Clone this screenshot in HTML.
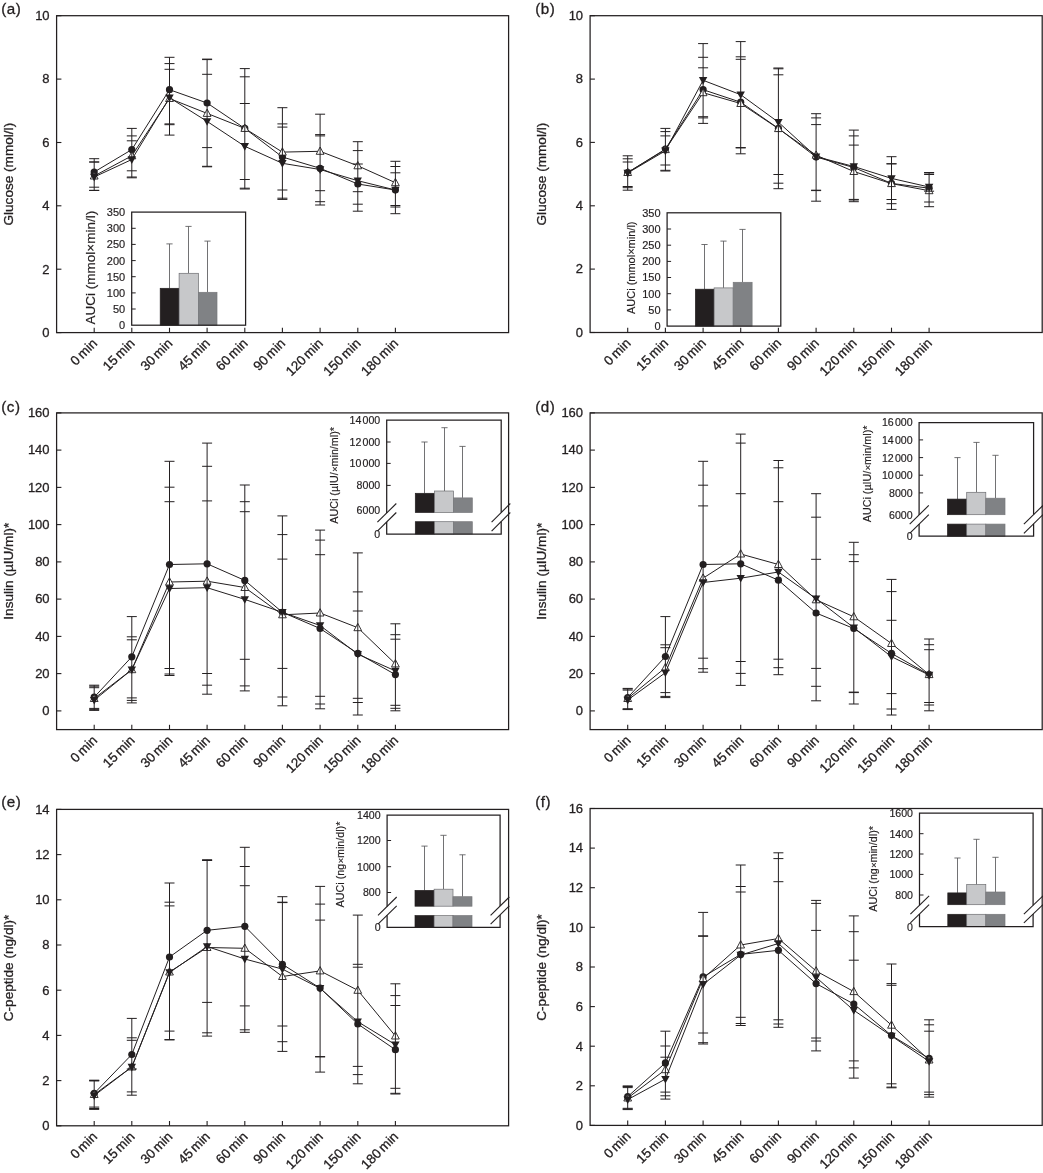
<!DOCTYPE html>
<html lang="en"><head><meta charset="utf-8"><title>Figure</title>
<style>
html,body{margin:0;padding:0;background:#fff;}
body{width:1043px;height:1173px;overflow:hidden;}
svg{display:block;}
text{font-family:"Liberation Sans",Arial,Helvetica,sans-serif;fill:#231f20;stroke:#231f20;stroke-width:0.3px;}
.ax{fill:none;stroke:#231f20;stroke-width:1.25;}
.iax{fill:none;stroke:#231f20;stroke-width:1.25;}
.ibg{fill:#fff;stroke:none;}
.tk{stroke:#231f20;stroke-width:1.1;}
.dl{fill:none;stroke:#231f20;stroke-width:1.0;stroke-linejoin:round;}
.eb{stroke:#231f20;stroke-width:1.0;}
.ie{stroke:#58595b;stroke-width:0.85;}
.sl{stroke:#231f20;stroke-width:1.1;}
.mc{fill:#231f20;}
.md{fill:#231f20;}
.mu{fill:#fff;stroke:#231f20;stroke-width:0.9;}
.yt{font-size:13.0px;text-anchor:end;}
.xt{font-size:13.4px;text-anchor:end;word-spacing:-1.6px;}
.yl{font-size:13.6px;text-anchor:middle;}
.pl{font-size:15.2px;letter-spacing:0.5px;}
.it{font-size:10.6px;text-anchor:end;word-spacing:-1.7px;stroke-width:0.18px;}
.itk{stroke:#231f20;stroke-width:1;}
.il{font-size:10.8px;text-anchor:middle;stroke-width:0.18px;}
.tm{font-size:0.84em;}
</style></head>
<body>
<svg width="1043" height="1173" viewBox="0 0 1043 1173">
<rect width="1043" height="1173" fill="#fff"/>
<g id="panel-a">
<polyline class="dl" points="94.2,172 131.8,149.6 169.5,89.7 207.1,103 244.8,128.4 282.4,157 320.1,168.3 357.8,184 395.4,190"/>
<circle class="mc" cx="94.2" cy="172" r="3.6"/>
<circle class="mc" cx="131.8" cy="149.6" r="3.6"/>
<circle class="mc" cx="169.5" cy="89.7" r="3.6"/>
<circle class="mc" cx="207.1" cy="103" r="3.6"/>
<circle class="mc" cx="244.8" cy="128.4" r="3.6"/>
<circle class="mc" cx="282.4" cy="157" r="3.6"/>
<circle class="mc" cx="320.1" cy="168.3" r="3.6"/>
<circle class="mc" cx="357.8" cy="184" r="3.6"/>
<circle class="mc" cx="395.4" cy="190" r="3.6"/>
<polyline class="dl" points="94.2,176 131.8,155.8 169.5,98.5 207.1,113.4 244.8,128.4 282.4,152.1 320.1,151.3 357.8,165.8 395.4,182.7"/>
<polygon class="mu" points="90.3,179 98.1,179 94.2,171.7"/>
<polygon class="mu" points="127.9,158.8 135.8,158.8 131.8,151.5"/>
<polygon class="mu" points="165.6,101.5 173.4,101.5 169.5,94.2"/>
<polygon class="mu" points="203.2,116.4 211,116.4 207.1,109.1"/>
<polygon class="mu" points="240.9,131.4 248.7,131.4 244.8,124.1"/>
<polygon class="mu" points="278.6,155.1 286.3,155.1 282.4,147.8"/>
<polygon class="mu" points="316.2,154.3 324,154.3 320.1,147"/>
<polygon class="mu" points="353.9,168.8 361.6,168.8 357.8,161.5"/>
<polygon class="mu" points="391.5,185.7 399.3,185.7 395.4,178.4"/>
<polyline class="dl" points="94.2,177 131.8,159.5 169.5,97.7 207.1,121.4 244.8,146.3 282.4,163.3 320.1,169.5 357.8,180.7 395.4,190"/>
<polygon class="md" points="90,173.8 98.4,173.8 94.2,181.4"/>
<polygon class="md" points="127.6,156.3 136,156.3 131.8,163.9"/>
<polygon class="md" points="165.3,94.5 173.7,94.5 169.5,102.1"/>
<polygon class="md" points="202.9,118.2 211.3,118.2 207.1,125.8"/>
<polygon class="md" points="240.6,143.1 249,143.1 244.8,150.7"/>
<polygon class="md" points="278.2,160.1 286.6,160.1 282.4,167.7"/>
<polygon class="md" points="315.9,166.3 324.3,166.3 320.1,173.9"/>
<polygon class="md" points="353.6,177.5 361.9,177.5 357.8,185.1"/>
<polygon class="md" points="391.2,186.8 399.6,186.8 395.4,194.4"/>
<line class="eb" x1="94.2" y1="158.7" x2="94.2" y2="190.4"/>
<line class="eb" x1="89.2" y1="158.7" x2="99.2" y2="158.7"/>
<line class="eb" x1="89.2" y1="162" x2="99.2" y2="162"/>
<line class="eb" x1="89.2" y1="162" x2="99.2" y2="162"/>
<line class="eb" x1="89.2" y1="187.2" x2="99.2" y2="187.2"/>
<line class="eb" x1="89.2" y1="190.4" x2="99.2" y2="190.4"/>
<line class="eb" x1="89.2" y1="190.4" x2="99.2" y2="190.4"/>
<line class="eb" x1="131.8" y1="128.4" x2="131.8" y2="177.8"/>
<line class="eb" x1="126.8" y1="128.4" x2="136.8" y2="128.4"/>
<line class="eb" x1="126.8" y1="135.9" x2="136.8" y2="135.9"/>
<line class="eb" x1="126.8" y1="140.8" x2="136.8" y2="140.8"/>
<line class="eb" x1="126.8" y1="170.8" x2="136.8" y2="170.8"/>
<line class="eb" x1="126.8" y1="177" x2="136.8" y2="177"/>
<line class="eb" x1="126.8" y1="177.8" x2="136.8" y2="177.8"/>
<line class="eb" x1="169.5" y1="57.3" x2="169.5" y2="135.1"/>
<line class="eb" x1="164.5" y1="57.3" x2="174.5" y2="57.3"/>
<line class="eb" x1="164.5" y1="63.6" x2="174.5" y2="63.6"/>
<line class="eb" x1="164.5" y1="69.3" x2="174.5" y2="69.3"/>
<line class="eb" x1="164.5" y1="123.9" x2="174.5" y2="123.9"/>
<line class="eb" x1="164.5" y1="124.7" x2="174.5" y2="124.7"/>
<line class="eb" x1="164.5" y1="135.1" x2="174.5" y2="135.1"/>
<line class="eb" x1="207.1" y1="59.1" x2="207.1" y2="166.8"/>
<line class="eb" x1="202.1" y1="59.1" x2="212.1" y2="59.1"/>
<line class="eb" x1="202.1" y1="59.6" x2="212.1" y2="59.6"/>
<line class="eb" x1="202.1" y1="74.3" x2="212.1" y2="74.3"/>
<line class="eb" x1="202.1" y1="147.6" x2="212.1" y2="147.6"/>
<line class="eb" x1="202.1" y1="166.3" x2="212.1" y2="166.3"/>
<line class="eb" x1="202.1" y1="166.8" x2="212.1" y2="166.8"/>
<line class="eb" x1="244.8" y1="68.6" x2="244.8" y2="189"/>
<line class="eb" x1="239.8" y1="68.6" x2="249.8" y2="68.6"/>
<line class="eb" x1="239.8" y1="76.8" x2="249.8" y2="76.8"/>
<line class="eb" x1="239.8" y1="103.5" x2="249.8" y2="103.5"/>
<line class="eb" x1="239.8" y1="179.5" x2="249.8" y2="179.5"/>
<line class="eb" x1="239.8" y1="188.2" x2="249.8" y2="188.2"/>
<line class="eb" x1="239.8" y1="189" x2="249.8" y2="189"/>
<line class="eb" x1="282.4" y1="107.7" x2="282.4" y2="199.4"/>
<line class="eb" x1="277.4" y1="107.7" x2="287.4" y2="107.7"/>
<line class="eb" x1="277.4" y1="123.9" x2="287.4" y2="123.9"/>
<line class="eb" x1="277.4" y1="127.1" x2="287.4" y2="127.1"/>
<line class="eb" x1="277.4" y1="190" x2="287.4" y2="190"/>
<line class="eb" x1="277.4" y1="198.2" x2="287.4" y2="198.2"/>
<line class="eb" x1="277.4" y1="199.4" x2="287.4" y2="199.4"/>
<line class="eb" x1="320.1" y1="114.2" x2="320.1" y2="205"/>
<line class="eb" x1="315.1" y1="114.2" x2="325.1" y2="114.2"/>
<line class="eb" x1="315.1" y1="134.6" x2="325.1" y2="134.6"/>
<line class="eb" x1="315.1" y1="135.9" x2="325.1" y2="135.9"/>
<line class="eb" x1="315.1" y1="190.7" x2="325.1" y2="190.7"/>
<line class="eb" x1="315.1" y1="201.7" x2="325.1" y2="201.7"/>
<line class="eb" x1="315.1" y1="205" x2="325.1" y2="205"/>
<line class="eb" x1="357.8" y1="141.7" x2="357.8" y2="211.2"/>
<line class="eb" x1="352.8" y1="141.7" x2="362.8" y2="141.7"/>
<line class="eb" x1="352.8" y1="150.6" x2="362.8" y2="150.6"/>
<line class="eb" x1="352.8" y1="164" x2="362.8" y2="164"/>
<line class="eb" x1="352.8" y1="191.7" x2="362.8" y2="191.7"/>
<line class="eb" x1="352.8" y1="204.2" x2="362.8" y2="204.2"/>
<line class="eb" x1="352.8" y1="211.2" x2="362.8" y2="211.2"/>
<line class="eb" x1="395.4" y1="161.3" x2="395.4" y2="213.7"/>
<line class="eb" x1="390.4" y1="161.3" x2="400.4" y2="161.3"/>
<line class="eb" x1="390.4" y1="166.5" x2="400.4" y2="166.5"/>
<line class="eb" x1="390.4" y1="172.8" x2="400.4" y2="172.8"/>
<line class="eb" x1="390.4" y1="205.5" x2="400.4" y2="205.5"/>
<line class="eb" x1="390.4" y1="207" x2="400.4" y2="207"/>
<line class="eb" x1="390.4" y1="213.7" x2="400.4" y2="213.7"/>
<rect class="ax" x="56.6" y="15.7" width="452" height="316.9"/>
<line class="tk" x1="56.6" y1="332.6" x2="61.4" y2="332.6"/>
<text class="yt" x="49.6" y="336.9">0</text>
<line class="tk" x1="56.6" y1="269.2" x2="61.4" y2="269.2"/>
<text class="yt" x="49.6" y="273.5">2</text>
<line class="tk" x1="56.6" y1="205.8" x2="61.4" y2="205.8"/>
<text class="yt" x="49.6" y="210.1">4</text>
<line class="tk" x1="56.6" y1="142.5" x2="61.4" y2="142.5"/>
<text class="yt" x="49.6" y="146.8">6</text>
<line class="tk" x1="56.6" y1="79.1" x2="61.4" y2="79.1"/>
<text class="yt" x="49.6" y="83.4">8</text>
<line class="tk" x1="56.6" y1="15.7" x2="61.4" y2="15.7"/>
<text class="yt" x="49.6" y="20">10</text>
<line class="tk" x1="94.2" y1="332.6" x2="94.2" y2="327.8"/>
<text class="xt" transform="translate(97.9,344.2) rotate(-45)">0 min</text>
<line class="tk" x1="131.8" y1="332.6" x2="131.8" y2="327.8"/>
<text class="xt" transform="translate(135.5,344.2) rotate(-45)">15 min</text>
<line class="tk" x1="169.5" y1="332.6" x2="169.5" y2="327.8"/>
<text class="xt" transform="translate(173.2,344.2) rotate(-45)">30 min</text>
<line class="tk" x1="207.1" y1="332.6" x2="207.1" y2="327.8"/>
<text class="xt" transform="translate(210.8,344.2) rotate(-45)">45 min</text>
<line class="tk" x1="244.8" y1="332.6" x2="244.8" y2="327.8"/>
<text class="xt" transform="translate(248.5,344.2) rotate(-45)">60 min</text>
<line class="tk" x1="282.4" y1="332.6" x2="282.4" y2="327.8"/>
<text class="xt" transform="translate(286.1,344.2) rotate(-45)">90 min</text>
<line class="tk" x1="320.1" y1="332.6" x2="320.1" y2="327.8"/>
<text class="xt" transform="translate(323.8,344.2) rotate(-45)">120 min</text>
<line class="tk" x1="357.8" y1="332.6" x2="357.8" y2="327.8"/>
<text class="xt" transform="translate(361.4,344.2) rotate(-45)">150 min</text>
<line class="tk" x1="395.4" y1="332.6" x2="395.4" y2="327.8"/>
<text class="xt" transform="translate(399.1,344.2) rotate(-45)">180 min</text>
<text class="yl" transform="translate(12.5,174.2) rotate(-90)">Glucose (mmol/l)</text>
<text class="pl" x="1.3" y="14.3">(a)</text>
<rect class="ibg" x="131.7" y="212.1" width="113.9" height="113.1"/>
<line class="ie" x1="169.5" y1="288.3" x2="169.5" y2="243.9"/>
<line class="ie" x1="166.4" y1="243.9" x2="172.6" y2="243.9"/>
<rect x="160.2" y="288.3" width="18.9" height="36.9" fill="#231f20" stroke="#231f20" stroke-width="0.7"/>
<line class="ie" x1="188.5" y1="273.3" x2="188.5" y2="226.4"/>
<line class="ie" x1="185.4" y1="226.4" x2="191.6" y2="226.4"/>
<rect x="179.1" y="273.3" width="19.4" height="51.9" fill="#c7c8ca" stroke="#6d6e71" stroke-width="0.7"/>
<line class="ie" x1="207.5" y1="292.3" x2="207.5" y2="241.1"/>
<line class="ie" x1="204.4" y1="241.1" x2="210.6" y2="241.1"/>
<rect x="198.5" y="292.3" width="18.5" height="32.9" fill="#808285" stroke="#77787b" stroke-width="0.7"/>
<rect class="iax" x="131.7" y="212.1" width="113.9" height="113.1"/>
<line class="itk" x1="131.7" y1="309" x2="135.7" y2="309"/>
<line class="itk" x1="131.7" y1="292.9" x2="135.7" y2="292.9"/>
<line class="itk" x1="131.7" y1="276.7" x2="135.7" y2="276.7"/>
<line class="itk" x1="131.7" y1="260.6" x2="135.7" y2="260.6"/>
<line class="itk" x1="131.7" y1="244.4" x2="135.7" y2="244.4"/>
<line class="itk" x1="131.7" y1="228.3" x2="135.7" y2="228.3"/>
<text class="it" style="font-size:11.0px" x="125.2" y="329.1">0</text>
<text class="it" style="font-size:11.0px" x="125.2" y="312.9">50</text>
<text class="it" style="font-size:11.0px" x="125.2" y="296.8">100</text>
<text class="it" style="font-size:11.0px" x="125.2" y="280.6">150</text>
<text class="it" style="font-size:11.0px" x="125.2" y="264.5">200</text>
<text class="it" style="font-size:11.0px" x="125.2" y="248.3">250</text>
<text class="it" style="font-size:11.0px" x="125.2" y="232.2">300</text>
<text class="it" style="font-size:11.0px" x="125.2" y="216">350</text>
<text class="il" style="font-size:13.5px" transform="translate(94.8,267.6) rotate(-90)">AUCi (mmol×min/l)</text>
</g>
<g id="panel-b">
<polyline class="dl" points="627.7,172.5 665.4,149.1 703.1,89.7 740.7,102.2 778.4,128.4 816.1,157 853.8,167.5 891.5,183.4 929.1,188.2"/>
<circle class="mc" cx="627.7" cy="172.5" r="3.6"/>
<circle class="mc" cx="665.4" cy="149.1" r="3.6"/>
<circle class="mc" cx="703.1" cy="89.7" r="3.6"/>
<circle class="mc" cx="740.7" cy="102.2" r="3.6"/>
<circle class="mc" cx="778.4" cy="128.4" r="3.6"/>
<circle class="mc" cx="816.1" cy="157" r="3.6"/>
<circle class="mc" cx="853.8" cy="167.5" r="3.6"/>
<circle class="mc" cx="891.5" cy="183.4" r="3.6"/>
<circle class="mc" cx="929.1" cy="188.2" r="3.6"/>
<polyline class="dl" points="627.7,172.5 665.4,149.6 703.1,92.7 740.7,103.5 778.4,128.6 816.1,155.2 853.8,171.5 891.5,183.6 929.1,190.7"/>
<polygon class="mu" points="623.8,175.5 631.6,175.5 627.7,168.2"/>
<polygon class="mu" points="661.5,152.6 669.3,152.6 665.4,145.3"/>
<polygon class="mu" points="699.2,95.7 707,95.7 703.1,88.4"/>
<polygon class="mu" points="736.8,106.5 744.6,106.5 740.7,99.2"/>
<polygon class="mu" points="774.5,131.6 782.3,131.6 778.4,124.3"/>
<polygon class="mu" points="812.2,158.2 820,158.2 816.1,150.9"/>
<polygon class="mu" points="849.9,174.5 857.7,174.5 853.8,167.2"/>
<polygon class="mu" points="887.6,186.6 895.4,186.6 891.5,179.3"/>
<polygon class="mu" points="925.2,193.7 933,193.7 929.1,186.4"/>
<polyline class="dl" points="627.7,173 665.4,150.8 703.1,80.3 740.7,94.7 778.4,122.2 816.1,156.6 853.8,166.5 891.5,178.4 929.1,187"/>
<polygon class="md" points="623.5,169.8 631.9,169.8 627.7,177.4"/>
<polygon class="md" points="661.2,147.6 669.6,147.6 665.4,155.2"/>
<polygon class="md" points="698.9,77.1 707.3,77.1 703.1,84.7"/>
<polygon class="md" points="736.5,91.5 744.9,91.5 740.7,99.1"/>
<polygon class="md" points="774.2,119 782.6,119 778.4,126.6"/>
<polygon class="md" points="811.9,153.4 820.3,153.4 816.1,161"/>
<polygon class="md" points="849.6,163.3 858,163.3 853.8,170.9"/>
<polygon class="md" points="887.3,175.2 895.7,175.2 891.5,182.8"/>
<polygon class="md" points="924.9,183.8 933.3,183.8 929.1,191.4"/>
<line class="eb" x1="627.7" y1="155.8" x2="627.7" y2="190.2"/>
<line class="eb" x1="622.7" y1="155.8" x2="632.7" y2="155.8"/>
<line class="eb" x1="622.7" y1="158.8" x2="632.7" y2="158.8"/>
<line class="eb" x1="622.7" y1="162" x2="632.7" y2="162"/>
<line class="eb" x1="622.7" y1="186.5" x2="632.7" y2="186.5"/>
<line class="eb" x1="622.7" y1="187.7" x2="632.7" y2="187.7"/>
<line class="eb" x1="622.7" y1="190.2" x2="632.7" y2="190.2"/>
<line class="eb" x1="665.4" y1="128.4" x2="665.4" y2="171"/>
<line class="eb" x1="660.4" y1="128.4" x2="670.4" y2="128.4"/>
<line class="eb" x1="660.4" y1="131.6" x2="670.4" y2="131.6"/>
<line class="eb" x1="660.4" y1="135.9" x2="670.4" y2="135.9"/>
<line class="eb" x1="660.4" y1="165" x2="670.4" y2="165"/>
<line class="eb" x1="660.4" y1="170.3" x2="670.4" y2="170.3"/>
<line class="eb" x1="660.4" y1="171" x2="670.4" y2="171"/>
<line class="eb" x1="703.1" y1="43.6" x2="703.1" y2="123.4"/>
<line class="eb" x1="698.1" y1="43.6" x2="708.1" y2="43.6"/>
<line class="eb" x1="698.1" y1="57.3" x2="708.1" y2="57.3"/>
<line class="eb" x1="698.1" y1="67.8" x2="708.1" y2="67.8"/>
<line class="eb" x1="698.1" y1="116.7" x2="708.1" y2="116.7"/>
<line class="eb" x1="698.1" y1="117.9" x2="708.1" y2="117.9"/>
<line class="eb" x1="698.1" y1="123.4" x2="708.1" y2="123.4"/>
<line class="eb" x1="740.7" y1="41.6" x2="740.7" y2="153.8"/>
<line class="eb" x1="735.7" y1="41.6" x2="745.7" y2="41.6"/>
<line class="eb" x1="735.7" y1="56.8" x2="745.7" y2="56.8"/>
<line class="eb" x1="735.7" y1="59.3" x2="745.7" y2="59.3"/>
<line class="eb" x1="735.7" y1="147.6" x2="745.7" y2="147.6"/>
<line class="eb" x1="735.7" y1="153.8" x2="745.7" y2="153.8"/>
<line class="eb" x1="735.7" y1="147.9" x2="745.7" y2="147.9"/>
<line class="eb" x1="778.4" y1="68" x2="778.4" y2="188.7"/>
<line class="eb" x1="773.4" y1="68" x2="783.4" y2="68"/>
<line class="eb" x1="773.4" y1="68.8" x2="783.4" y2="68.8"/>
<line class="eb" x1="773.4" y1="74.8" x2="783.4" y2="74.8"/>
<line class="eb" x1="773.4" y1="174.5" x2="783.4" y2="174.5"/>
<line class="eb" x1="773.4" y1="183.2" x2="783.4" y2="183.2"/>
<line class="eb" x1="773.4" y1="188.7" x2="783.4" y2="188.7"/>
<line class="eb" x1="816.1" y1="113.7" x2="816.1" y2="201.2"/>
<line class="eb" x1="811.1" y1="113.7" x2="821.1" y2="113.7"/>
<line class="eb" x1="811.1" y1="117.9" x2="821.1" y2="117.9"/>
<line class="eb" x1="811.1" y1="124.6" x2="821.1" y2="124.6"/>
<line class="eb" x1="811.1" y1="190.2" x2="821.1" y2="190.2"/>
<line class="eb" x1="811.1" y1="201.2" x2="821.1" y2="201.2"/>
<line class="eb" x1="811.1" y1="190.6" x2="821.1" y2="190.6"/>
<line class="eb" x1="853.8" y1="130.1" x2="853.8" y2="201.7"/>
<line class="eb" x1="848.8" y1="130.1" x2="858.8" y2="130.1"/>
<line class="eb" x1="848.8" y1="135.9" x2="858.8" y2="135.9"/>
<line class="eb" x1="848.8" y1="145.1" x2="858.8" y2="145.1"/>
<line class="eb" x1="848.8" y1="199.4" x2="858.8" y2="199.4"/>
<line class="eb" x1="848.8" y1="200" x2="858.8" y2="200"/>
<line class="eb" x1="848.8" y1="201.7" x2="858.8" y2="201.7"/>
<line class="eb" x1="891.5" y1="156.7" x2="891.5" y2="209.4"/>
<line class="eb" x1="886.5" y1="156.7" x2="896.5" y2="156.7"/>
<line class="eb" x1="886.5" y1="163.8" x2="896.5" y2="163.8"/>
<line class="eb" x1="886.5" y1="163.8" x2="896.5" y2="163.8"/>
<line class="eb" x1="886.5" y1="199.5" x2="896.5" y2="199.5"/>
<line class="eb" x1="886.5" y1="203.7" x2="896.5" y2="203.7"/>
<line class="eb" x1="886.5" y1="209.4" x2="896.5" y2="209.4"/>
<line class="eb" x1="929.1" y1="172.5" x2="929.1" y2="206.7"/>
<line class="eb" x1="924.1" y1="172.5" x2="934.1" y2="172.5"/>
<line class="eb" x1="924.1" y1="174.5" x2="934.1" y2="174.5"/>
<line class="eb" x1="924.1" y1="173" x2="934.1" y2="173"/>
<line class="eb" x1="924.1" y1="191.2" x2="934.1" y2="191.2"/>
<line class="eb" x1="924.1" y1="202" x2="934.1" y2="202"/>
<line class="eb" x1="924.1" y1="206.7" x2="934.1" y2="206.7"/>
<rect class="ax" x="590.1" y="15.7" width="452.1" height="316.8"/>
<line class="tk" x1="590.1" y1="332.5" x2="594.9" y2="332.5"/>
<text class="yt" x="583.1" y="336.8">0</text>
<line class="tk" x1="590.1" y1="269.1" x2="594.9" y2="269.1"/>
<text class="yt" x="583.1" y="273.4">2</text>
<line class="tk" x1="590.1" y1="205.8" x2="594.9" y2="205.8"/>
<text class="yt" x="583.1" y="210.1">4</text>
<line class="tk" x1="590.1" y1="142.4" x2="594.9" y2="142.4"/>
<text class="yt" x="583.1" y="146.7">6</text>
<line class="tk" x1="590.1" y1="79.1" x2="594.9" y2="79.1"/>
<text class="yt" x="583.1" y="83.4">8</text>
<line class="tk" x1="590.1" y1="15.7" x2="594.9" y2="15.7"/>
<text class="yt" x="583.1" y="20">10</text>
<line class="tk" x1="627.7" y1="332.5" x2="627.7" y2="327.7"/>
<text class="xt" transform="translate(631.4,344.1) rotate(-45)">0 min</text>
<line class="tk" x1="665.4" y1="332.5" x2="665.4" y2="327.7"/>
<text class="xt" transform="translate(669.1,344.1) rotate(-45)">15 min</text>
<line class="tk" x1="703.1" y1="332.5" x2="703.1" y2="327.7"/>
<text class="xt" transform="translate(706.8,344.1) rotate(-45)">30 min</text>
<line class="tk" x1="740.7" y1="332.5" x2="740.7" y2="327.7"/>
<text class="xt" transform="translate(744.4,344.1) rotate(-45)">45 min</text>
<line class="tk" x1="778.4" y1="332.5" x2="778.4" y2="327.7"/>
<text class="xt" transform="translate(782.1,344.1) rotate(-45)">60 min</text>
<line class="tk" x1="816.1" y1="332.5" x2="816.1" y2="327.7"/>
<text class="xt" transform="translate(819.8,344.1) rotate(-45)">90 min</text>
<line class="tk" x1="853.8" y1="332.5" x2="853.8" y2="327.7"/>
<text class="xt" transform="translate(857.5,344.1) rotate(-45)">120 min</text>
<line class="tk" x1="891.5" y1="332.5" x2="891.5" y2="327.7"/>
<text class="xt" transform="translate(895.2,344.1) rotate(-45)">150 min</text>
<line class="tk" x1="929.1" y1="332.5" x2="929.1" y2="327.7"/>
<text class="xt" transform="translate(932.8,344.1) rotate(-45)">180 min</text>
<text class="yl" transform="translate(546,174.1) rotate(-90)">Glucose (mmol/l)</text>
<text class="pl" x="535.2" y="14.3">(b)</text>
<rect class="ibg" x="667.1" y="212.8" width="113.7" height="113.3"/>
<line class="ie" x1="704.5" y1="289.2" x2="704.5" y2="244.5"/>
<line class="ie" x1="701.4" y1="244.5" x2="707.6" y2="244.5"/>
<rect x="695.4" y="289.2" width="18.7" height="36.9" fill="#231f20" stroke="#231f20" stroke-width="0.7"/>
<line class="ie" x1="723.5" y1="287.9" x2="723.5" y2="241.1"/>
<line class="ie" x1="720.4" y1="241.1" x2="726.6" y2="241.1"/>
<rect x="714.1" y="287.9" width="19.1" height="38.2" fill="#c7c8ca" stroke="#6d6e71" stroke-width="0.7"/>
<line class="ie" x1="742.5" y1="282.3" x2="742.5" y2="229.4"/>
<line class="ie" x1="739.4" y1="229.4" x2="745.6" y2="229.4"/>
<rect x="733.2" y="282.3" width="18.9" height="43.8" fill="#808285" stroke="#77787b" stroke-width="0.7"/>
<rect class="iax" x="667.1" y="212.8" width="113.7" height="113.3"/>
<line class="itk" x1="667.1" y1="309.9" x2="671.1" y2="309.9"/>
<line class="itk" x1="667.1" y1="293.7" x2="671.1" y2="293.7"/>
<line class="itk" x1="667.1" y1="277.5" x2="671.1" y2="277.5"/>
<line class="itk" x1="667.1" y1="261.4" x2="671.1" y2="261.4"/>
<line class="itk" x1="667.1" y1="245.2" x2="671.1" y2="245.2"/>
<line class="itk" x1="667.1" y1="229" x2="671.1" y2="229"/>
<text class="it" style="font-size:11.0px" x="660.6" y="330">0</text>
<text class="it" style="font-size:11.0px" x="660.6" y="313.8">50</text>
<text class="it" style="font-size:11.0px" x="660.6" y="297.6">100</text>
<text class="it" style="font-size:11.0px" x="660.6" y="281.4">150</text>
<text class="it" style="font-size:11.0px" x="660.6" y="265.3">200</text>
<text class="it" style="font-size:11.0px" x="660.6" y="249.1">250</text>
<text class="it" style="font-size:11.0px" x="660.6" y="232.9">300</text>
<text class="it" style="font-size:11.0px" x="660.6" y="216.7">350</text>
<text class="il" style="font-size:11.0px" transform="translate(634.7,267.8) rotate(-90)">AUCi (mmol×min/l)</text>
</g>
<g id="panel-c">
<polyline class="dl" points="94.2,697.2 131.8,656.8 169.5,564.5 207.1,563.8 244.8,580.4 282.4,612.3 320.1,628.5 357.8,653.4 395.4,674.6"/>
<circle class="mc" cx="94.2" cy="697.2" r="3.6"/>
<circle class="mc" cx="131.8" cy="656.8" r="3.6"/>
<circle class="mc" cx="169.5" cy="564.5" r="3.6"/>
<circle class="mc" cx="207.1" cy="563.8" r="3.6"/>
<circle class="mc" cx="244.8" cy="580.4" r="3.6"/>
<circle class="mc" cx="282.4" cy="612.3" r="3.6"/>
<circle class="mc" cx="320.1" cy="628.5" r="3.6"/>
<circle class="mc" cx="357.8" cy="653.4" r="3.6"/>
<circle class="mc" cx="395.4" cy="674.6" r="3.6"/>
<polyline class="dl" points="94.2,698.5 131.8,669.7 169.5,582 207.1,581.2 244.8,587.5 282.4,614.8 320.1,613 357.8,627.7 395.4,663.9"/>
<polygon class="mu" points="90.3,701.5 98.1,701.5 94.2,694.2"/>
<polygon class="mu" points="127.9,672.7 135.8,672.7 131.8,665.4"/>
<polygon class="mu" points="165.6,585 173.4,585 169.5,577.7"/>
<polygon class="mu" points="203.2,584.2 211,584.2 207.1,576.9"/>
<polygon class="mu" points="240.9,590.5 248.7,590.5 244.8,583.2"/>
<polygon class="mu" points="278.6,617.8 286.3,617.8 282.4,610.5"/>
<polygon class="mu" points="316.2,616 324,616 320.1,608.7"/>
<polygon class="mu" points="353.9,630.7 361.6,630.7 357.8,623.4"/>
<polygon class="mu" points="391.5,666.9 399.3,666.9 395.4,659.6"/>
<polyline class="dl" points="94.2,700.2 131.8,669.7 169.5,588.5 207.1,587.7 244.8,599.4 282.4,612.3 320.1,625.5 357.8,654.2 395.4,670.9"/>
<polygon class="md" points="90,697 98.4,697 94.2,704.6"/>
<polygon class="md" points="127.6,666.5 136,666.5 131.8,674.1"/>
<polygon class="md" points="165.3,585.3 173.7,585.3 169.5,592.9"/>
<polygon class="md" points="202.9,584.5 211.3,584.5 207.1,592.1"/>
<polygon class="md" points="240.6,596.2 249,596.2 244.8,603.8"/>
<polygon class="md" points="278.2,609.1 286.6,609.1 282.4,616.7"/>
<polygon class="md" points="315.9,622.3 324.3,622.3 320.1,629.9"/>
<polygon class="md" points="353.6,651 361.9,651 357.8,658.6"/>
<polygon class="md" points="391.2,667.7 399.6,667.7 395.4,675.3"/>
<line class="eb" x1="94.2" y1="685.2" x2="94.2" y2="710.4"/>
<line class="eb" x1="89.2" y1="685.2" x2="99.2" y2="685.2"/>
<line class="eb" x1="89.2" y1="687.7" x2="99.2" y2="687.7"/>
<line class="eb" x1="89.2" y1="686.2" x2="99.2" y2="686.2"/>
<line class="eb" x1="89.2" y1="708.4" x2="99.2" y2="708.4"/>
<line class="eb" x1="89.2" y1="710.4" x2="99.2" y2="710.4"/>
<line class="eb" x1="89.2" y1="709.4" x2="99.2" y2="709.4"/>
<line class="eb" x1="131.8" y1="616.6" x2="131.8" y2="702.9"/>
<line class="eb" x1="126.8" y1="616.6" x2="136.8" y2="616.6"/>
<line class="eb" x1="126.8" y1="636.8" x2="136.8" y2="636.8"/>
<line class="eb" x1="126.8" y1="639.8" x2="136.8" y2="639.8"/>
<line class="eb" x1="126.8" y1="697.9" x2="136.8" y2="697.9"/>
<line class="eb" x1="126.8" y1="700.4" x2="136.8" y2="700.4"/>
<line class="eb" x1="126.8" y1="702.9" x2="136.8" y2="702.9"/>
<line class="eb" x1="169.5" y1="461.3" x2="169.5" y2="675.5"/>
<line class="eb" x1="164.5" y1="461.3" x2="174.5" y2="461.3"/>
<line class="eb" x1="164.5" y1="487.2" x2="174.5" y2="487.2"/>
<line class="eb" x1="164.5" y1="501.7" x2="174.5" y2="501.7"/>
<line class="eb" x1="164.5" y1="668.5" x2="174.5" y2="668.5"/>
<line class="eb" x1="164.5" y1="674" x2="174.5" y2="674"/>
<line class="eb" x1="164.5" y1="675.5" x2="174.5" y2="675.5"/>
<line class="eb" x1="207.1" y1="443.1" x2="207.1" y2="694.2"/>
<line class="eb" x1="202.1" y1="443.1" x2="212.1" y2="443.1"/>
<line class="eb" x1="202.1" y1="466.3" x2="212.1" y2="466.3"/>
<line class="eb" x1="202.1" y1="500.9" x2="212.1" y2="500.9"/>
<line class="eb" x1="202.1" y1="673.5" x2="212.1" y2="673.5"/>
<line class="eb" x1="202.1" y1="685.2" x2="212.1" y2="685.2"/>
<line class="eb" x1="202.1" y1="694.2" x2="212.1" y2="694.2"/>
<line class="eb" x1="244.8" y1="485" x2="244.8" y2="690.9"/>
<line class="eb" x1="239.8" y1="485" x2="249.8" y2="485"/>
<line class="eb" x1="239.8" y1="501.7" x2="249.8" y2="501.7"/>
<line class="eb" x1="239.8" y1="511.7" x2="249.8" y2="511.7"/>
<line class="eb" x1="239.8" y1="659.3" x2="249.8" y2="659.3"/>
<line class="eb" x1="239.8" y1="685.9" x2="249.8" y2="685.9"/>
<line class="eb" x1="239.8" y1="690.9" x2="249.8" y2="690.9"/>
<line class="eb" x1="282.4" y1="515.9" x2="282.4" y2="705.8"/>
<line class="eb" x1="277.4" y1="515.9" x2="287.4" y2="515.9"/>
<line class="eb" x1="277.4" y1="534.6" x2="287.4" y2="534.6"/>
<line class="eb" x1="277.4" y1="559.1" x2="287.4" y2="559.1"/>
<line class="eb" x1="277.4" y1="668.4" x2="287.4" y2="668.4"/>
<line class="eb" x1="277.4" y1="697" x2="287.4" y2="697"/>
<line class="eb" x1="277.4" y1="705.8" x2="287.4" y2="705.8"/>
<line class="eb" x1="320.1" y1="530.1" x2="320.1" y2="708.8"/>
<line class="eb" x1="315.1" y1="530.1" x2="325.1" y2="530.1"/>
<line class="eb" x1="315.1" y1="540.1" x2="325.1" y2="540.1"/>
<line class="eb" x1="315.1" y1="554.7" x2="325.1" y2="554.7"/>
<line class="eb" x1="315.1" y1="696.3" x2="325.1" y2="696.3"/>
<line class="eb" x1="315.1" y1="704" x2="325.1" y2="704"/>
<line class="eb" x1="315.1" y1="708.8" x2="325.1" y2="708.8"/>
<line class="eb" x1="357.8" y1="552.9" x2="357.8" y2="715"/>
<line class="eb" x1="352.8" y1="552.9" x2="362.8" y2="552.9"/>
<line class="eb" x1="352.8" y1="591.9" x2="362.8" y2="591.9"/>
<line class="eb" x1="352.8" y1="611" x2="362.8" y2="611"/>
<line class="eb" x1="352.8" y1="698.3" x2="362.8" y2="698.3"/>
<line class="eb" x1="352.8" y1="702.5" x2="362.8" y2="702.5"/>
<line class="eb" x1="352.8" y1="715" x2="362.8" y2="715"/>
<line class="eb" x1="395.4" y1="623.8" x2="395.4" y2="710.8"/>
<line class="eb" x1="390.4" y1="623.8" x2="400.4" y2="623.8"/>
<line class="eb" x1="390.4" y1="634.7" x2="400.4" y2="634.7"/>
<line class="eb" x1="390.4" y1="639.2" x2="400.4" y2="639.2"/>
<line class="eb" x1="390.4" y1="705.3" x2="400.4" y2="705.3"/>
<line class="eb" x1="390.4" y1="708.3" x2="400.4" y2="708.3"/>
<line class="eb" x1="390.4" y1="710.8" x2="400.4" y2="710.8"/>
<rect class="ax" x="56.6" y="412.9" width="452" height="316.7"/>
<line class="tk" x1="56.6" y1="710.9" x2="61.4" y2="710.9"/>
<text class="yt" x="49.6" y="715.2">0</text>
<line class="tk" x1="56.6" y1="673.6" x2="61.4" y2="673.6"/>
<text class="yt" x="49.6" y="677.9">20</text>
<line class="tk" x1="56.6" y1="636.4" x2="61.4" y2="636.4"/>
<text class="yt" x="49.6" y="640.7">40</text>
<line class="tk" x1="56.6" y1="599.1" x2="61.4" y2="599.1"/>
<text class="yt" x="49.6" y="603.4">60</text>
<line class="tk" x1="56.6" y1="561.9" x2="61.4" y2="561.9"/>
<text class="yt" x="49.6" y="566.2">80</text>
<line class="tk" x1="56.6" y1="524.6" x2="61.4" y2="524.6"/>
<text class="yt" x="49.6" y="528.9">100</text>
<line class="tk" x1="56.6" y1="487.4" x2="61.4" y2="487.4"/>
<text class="yt" x="49.6" y="491.7">120</text>
<line class="tk" x1="56.6" y1="450.1" x2="61.4" y2="450.1"/>
<text class="yt" x="49.6" y="454.4">140</text>
<line class="tk" x1="56.6" y1="412.9" x2="61.4" y2="412.9"/>
<text class="yt" x="49.6" y="417.2">160</text>
<line class="tk" x1="94.2" y1="729.6" x2="94.2" y2="724.8"/>
<text class="xt" transform="translate(97.9,741.2) rotate(-45)">0 min</text>
<line class="tk" x1="131.8" y1="729.6" x2="131.8" y2="724.8"/>
<text class="xt" transform="translate(135.5,741.2) rotate(-45)">15 min</text>
<line class="tk" x1="169.5" y1="729.6" x2="169.5" y2="724.8"/>
<text class="xt" transform="translate(173.2,741.2) rotate(-45)">30 min</text>
<line class="tk" x1="207.1" y1="729.6" x2="207.1" y2="724.8"/>
<text class="xt" transform="translate(210.8,741.2) rotate(-45)">45 min</text>
<line class="tk" x1="244.8" y1="729.6" x2="244.8" y2="724.8"/>
<text class="xt" transform="translate(248.5,741.2) rotate(-45)">60 min</text>
<line class="tk" x1="282.4" y1="729.6" x2="282.4" y2="724.8"/>
<text class="xt" transform="translate(286.1,741.2) rotate(-45)">90 min</text>
<line class="tk" x1="320.1" y1="729.6" x2="320.1" y2="724.8"/>
<text class="xt" transform="translate(323.8,741.2) rotate(-45)">120 min</text>
<line class="tk" x1="357.8" y1="729.6" x2="357.8" y2="724.8"/>
<text class="xt" transform="translate(361.4,741.2) rotate(-45)">150 min</text>
<line class="tk" x1="395.4" y1="729.6" x2="395.4" y2="724.8"/>
<text class="xt" transform="translate(399.1,741.2) rotate(-45)">180 min</text>
<text class="yl" transform="translate(12.5,571.2) rotate(-90)">Insulin (µIU/ml)*</text>
<text class="pl" x="1.3" y="411.7">(c)</text>
<rect class="ibg" x="386.7" y="420.2" width="114.5" height="113.8"/>
<line class="ie" x1="424.5" y1="493.3" x2="424.5" y2="442"/>
<line class="ie" x1="421.4" y1="442" x2="427.6" y2="442"/>
<rect x="415.3" y="493.3" width="19.1" height="19.2" fill="#231f20" stroke="#231f20" stroke-width="0.7"/>
<rect x="415.3" y="521.7" width="19.1" height="12.3" fill="#231f20" stroke="#231f20" stroke-width="0.7"/>
<line class="ie" x1="444.5" y1="491" x2="444.5" y2="427.7"/>
<line class="ie" x1="441.4" y1="427.7" x2="447.6" y2="427.7"/>
<rect x="434.4" y="491" width="19.2" height="21.5" fill="#c7c8ca" stroke="#6d6e71" stroke-width="0.7"/>
<rect x="434.4" y="521.7" width="19.2" height="12.3" fill="#c7c8ca" stroke="#6d6e71" stroke-width="0.7"/>
<line class="ie" x1="462.5" y1="497.9" x2="462.5" y2="446.4"/>
<line class="ie" x1="459.4" y1="446.4" x2="465.6" y2="446.4"/>
<rect x="453.6" y="497.9" width="18.7" height="14.6" fill="#808285" stroke="#77787b" stroke-width="0.7"/>
<rect x="453.6" y="521.7" width="18.7" height="12.3" fill="#808285" stroke="#77787b" stroke-width="0.7"/>
<path class="iax" d="M386.7,513 V420.2 H501.2 V512.6 M501.2,521.6 V534 H386.7 V522"/>
<line class="sl" x1="377.4" y1="522.2" x2="396.3" y2="503.5"/>
<line class="sl" x1="377.4" y1="531.2" x2="396.3" y2="512.5"/>
<line class="sl" x1="491.6" y1="522.2" x2="510.3" y2="503.5"/>
<line class="sl" x1="491.6" y1="531.2" x2="510.3" y2="512.5"/>
<line class="itk" x1="386.7" y1="442" x2="390.7" y2="442"/>
<line class="itk" x1="386.7" y1="463.4" x2="390.7" y2="463.4"/>
<line class="itk" x1="386.7" y1="485.4" x2="390.7" y2="485.4"/>
<text class="it" style="font-size:10.6px" x="380.2" y="424.1">14 000</text>
<text class="it" style="font-size:10.6px" x="380.2" y="445.9">12 000</text>
<text class="it" style="font-size:10.6px" x="380.2" y="467.3">10 000</text>
<text class="it" style="font-size:10.6px" x="380.2" y="489.3">8000</text>
<text class="it" style="font-size:10.6px" x="380.2" y="513.6">6000</text>
<text class="it" style="font-size:10.6px" x="380.2" y="537.9">0</text>
<text class="il" style="font-size:10.75px" transform="translate(337.5,475.4) rotate(-90)">AUCi (µIU/<tspan class="tm" dx="0.05em">×</tspan><tspan dx="0.05em"></tspan>min/ml)*</text>
</g>
<g id="panel-d">
<polyline class="dl" points="627.7,697.6 665.4,656.5 703.1,564.5 740.7,563.8 778.4,580.2 816.1,613 853.8,628.5 891.5,653.4 929.1,674.6"/>
<circle class="mc" cx="627.7" cy="697.6" r="3.6"/>
<circle class="mc" cx="665.4" cy="656.5" r="3.6"/>
<circle class="mc" cx="703.1" cy="564.5" r="3.6"/>
<circle class="mc" cx="740.7" cy="563.8" r="3.6"/>
<circle class="mc" cx="778.4" cy="580.2" r="3.6"/>
<circle class="mc" cx="816.1" cy="613" r="3.6"/>
<circle class="mc" cx="853.8" cy="628.5" r="3.6"/>
<circle class="mc" cx="891.5" cy="653.4" r="3.6"/>
<circle class="mc" cx="929.1" cy="674.6" r="3.6"/>
<polyline class="dl" points="627.7,698.5 665.4,667.7 703.1,578.2 740.7,554 778.4,564.5 816.1,599.8 853.8,616.8 891.5,643.5 929.1,674.6"/>
<polygon class="mu" points="623.8,701.5 631.6,701.5 627.7,694.2"/>
<polygon class="mu" points="661.5,670.7 669.3,670.7 665.4,663.4"/>
<polygon class="mu" points="699.2,581.2 707,581.2 703.1,573.9"/>
<polygon class="mu" points="736.8,557 744.6,557 740.7,549.7"/>
<polygon class="mu" points="774.5,567.5 782.3,567.5 778.4,560.2"/>
<polygon class="mu" points="812.2,602.8 820,602.8 816.1,595.5"/>
<polygon class="mu" points="849.9,619.8 857.7,619.8 853.8,612.5"/>
<polygon class="mu" points="887.6,646.5 895.4,646.5 891.5,639.2"/>
<polygon class="mu" points="925.2,677.6 933,677.6 929.1,670.3"/>
<polyline class="dl" points="627.7,700 665.4,672.7 703.1,582.5 740.7,578.2 778.4,572 816.1,598.6 853.8,627.7 891.5,656.7 929.1,675"/>
<polygon class="md" points="623.5,696.8 631.9,696.8 627.7,704.4"/>
<polygon class="md" points="661.2,669.5 669.6,669.5 665.4,677.1"/>
<polygon class="md" points="698.9,579.3 707.3,579.3 703.1,586.9"/>
<polygon class="md" points="736.5,575 744.9,575 740.7,582.6"/>
<polygon class="md" points="774.2,568.8 782.6,568.8 778.4,576.4"/>
<polygon class="md" points="811.9,595.4 820.3,595.4 816.1,603"/>
<polygon class="md" points="849.6,624.5 858,624.5 853.8,632.1"/>
<polygon class="md" points="887.3,653.5 895.7,653.5 891.5,661.1"/>
<polygon class="md" points="924.9,671.8 933.3,671.8 929.1,679.4"/>
<line class="eb" x1="627.7" y1="688.4" x2="627.7" y2="709.6"/>
<line class="eb" x1="622.7" y1="688.4" x2="632.7" y2="688.4"/>
<line class="eb" x1="622.7" y1="690.1" x2="632.7" y2="690.1"/>
<line class="eb" x1="622.7" y1="689" x2="632.7" y2="689"/>
<line class="eb" x1="622.7" y1="708.8" x2="632.7" y2="708.8"/>
<line class="eb" x1="622.7" y1="709.6" x2="632.7" y2="709.6"/>
<line class="eb" x1="622.7" y1="709.2" x2="632.7" y2="709.2"/>
<line class="eb" x1="665.4" y1="616.6" x2="665.4" y2="697.6"/>
<line class="eb" x1="660.4" y1="616.6" x2="670.4" y2="616.6"/>
<line class="eb" x1="660.4" y1="644.8" x2="670.4" y2="644.8"/>
<line class="eb" x1="660.4" y1="647.7" x2="670.4" y2="647.7"/>
<line class="eb" x1="660.4" y1="692.6" x2="670.4" y2="692.6"/>
<line class="eb" x1="660.4" y1="696.4" x2="670.4" y2="696.4"/>
<line class="eb" x1="660.4" y1="697.6" x2="670.4" y2="697.6"/>
<line class="eb" x1="703.1" y1="461.3" x2="703.1" y2="672.2"/>
<line class="eb" x1="698.1" y1="461.3" x2="708.1" y2="461.3"/>
<line class="eb" x1="698.1" y1="485.2" x2="708.1" y2="485.2"/>
<line class="eb" x1="698.1" y1="505.9" x2="708.1" y2="505.9"/>
<line class="eb" x1="698.1" y1="658.2" x2="708.1" y2="658.2"/>
<line class="eb" x1="698.1" y1="668.7" x2="708.1" y2="668.7"/>
<line class="eb" x1="698.1" y1="672.2" x2="708.1" y2="672.2"/>
<line class="eb" x1="740.7" y1="434.1" x2="740.7" y2="685.4"/>
<line class="eb" x1="735.7" y1="434.1" x2="745.7" y2="434.1"/>
<line class="eb" x1="735.7" y1="443.1" x2="745.7" y2="443.1"/>
<line class="eb" x1="735.7" y1="493.7" x2="745.7" y2="493.7"/>
<line class="eb" x1="735.7" y1="661.5" x2="745.7" y2="661.5"/>
<line class="eb" x1="735.7" y1="673.4" x2="745.7" y2="673.4"/>
<line class="eb" x1="735.7" y1="685.4" x2="745.7" y2="685.4"/>
<line class="eb" x1="778.4" y1="460.5" x2="778.4" y2="674.7"/>
<line class="eb" x1="773.4" y1="460.5" x2="783.4" y2="460.5"/>
<line class="eb" x1="773.4" y1="467.8" x2="783.4" y2="467.8"/>
<line class="eb" x1="773.4" y1="501.7" x2="783.4" y2="501.7"/>
<line class="eb" x1="773.4" y1="659.2" x2="783.4" y2="659.2"/>
<line class="eb" x1="773.4" y1="667.7" x2="783.4" y2="667.7"/>
<line class="eb" x1="773.4" y1="674.7" x2="783.4" y2="674.7"/>
<line class="eb" x1="816.1" y1="493.7" x2="816.1" y2="700.8"/>
<line class="eb" x1="811.1" y1="493.7" x2="821.1" y2="493.7"/>
<line class="eb" x1="811.1" y1="517.2" x2="821.1" y2="517.2"/>
<line class="eb" x1="811.1" y1="559.3" x2="821.1" y2="559.3"/>
<line class="eb" x1="811.1" y1="668.4" x2="821.1" y2="668.4"/>
<line class="eb" x1="811.1" y1="686.3" x2="821.1" y2="686.3"/>
<line class="eb" x1="811.1" y1="700.8" x2="821.1" y2="700.8"/>
<line class="eb" x1="853.8" y1="542.3" x2="853.8" y2="704"/>
<line class="eb" x1="848.8" y1="542.3" x2="858.8" y2="542.3"/>
<line class="eb" x1="848.8" y1="554.7" x2="858.8" y2="554.7"/>
<line class="eb" x1="848.8" y1="561.6" x2="858.8" y2="561.6"/>
<line class="eb" x1="848.8" y1="692.1" x2="858.8" y2="692.1"/>
<line class="eb" x1="848.8" y1="692.6" x2="858.8" y2="692.6"/>
<line class="eb" x1="848.8" y1="704" x2="858.8" y2="704"/>
<line class="eb" x1="891.5" y1="579.4" x2="891.5" y2="715"/>
<line class="eb" x1="886.5" y1="579.4" x2="896.5" y2="579.4"/>
<line class="eb" x1="886.5" y1="591.6" x2="896.5" y2="591.6"/>
<line class="eb" x1="886.5" y1="620.3" x2="896.5" y2="620.3"/>
<line class="eb" x1="886.5" y1="693.6" x2="896.5" y2="693.6"/>
<line class="eb" x1="886.5" y1="709" x2="896.5" y2="709"/>
<line class="eb" x1="886.5" y1="715" x2="896.5" y2="715"/>
<line class="eb" x1="929.1" y1="639" x2="929.1" y2="710.8"/>
<line class="eb" x1="924.1" y1="639" x2="934.1" y2="639"/>
<line class="eb" x1="924.1" y1="644.7" x2="934.1" y2="644.7"/>
<line class="eb" x1="924.1" y1="649.7" x2="934.1" y2="649.7"/>
<line class="eb" x1="924.1" y1="702.5" x2="934.1" y2="702.5"/>
<line class="eb" x1="924.1" y1="705" x2="934.1" y2="705"/>
<line class="eb" x1="924.1" y1="710.8" x2="934.1" y2="710.8"/>
<rect class="ax" x="590.1" y="412.9" width="452.1" height="316.7"/>
<line class="tk" x1="590.1" y1="710.9" x2="594.9" y2="710.9"/>
<text class="yt" x="583.1" y="715.2">0</text>
<line class="tk" x1="590.1" y1="673.6" x2="594.9" y2="673.6"/>
<text class="yt" x="583.1" y="677.9">20</text>
<line class="tk" x1="590.1" y1="636.4" x2="594.9" y2="636.4"/>
<text class="yt" x="583.1" y="640.7">40</text>
<line class="tk" x1="590.1" y1="599.1" x2="594.9" y2="599.1"/>
<text class="yt" x="583.1" y="603.4">60</text>
<line class="tk" x1="590.1" y1="561.9" x2="594.9" y2="561.9"/>
<text class="yt" x="583.1" y="566.2">80</text>
<line class="tk" x1="590.1" y1="524.6" x2="594.9" y2="524.6"/>
<text class="yt" x="583.1" y="528.9">100</text>
<line class="tk" x1="590.1" y1="487.4" x2="594.9" y2="487.4"/>
<text class="yt" x="583.1" y="491.7">120</text>
<line class="tk" x1="590.1" y1="450.1" x2="594.9" y2="450.1"/>
<text class="yt" x="583.1" y="454.4">140</text>
<line class="tk" x1="590.1" y1="412.9" x2="594.9" y2="412.9"/>
<text class="yt" x="583.1" y="417.2">160</text>
<line class="tk" x1="627.7" y1="729.6" x2="627.7" y2="724.8"/>
<text class="xt" transform="translate(631.4,741.2) rotate(-45)">0 min</text>
<line class="tk" x1="665.4" y1="729.6" x2="665.4" y2="724.8"/>
<text class="xt" transform="translate(669.1,741.2) rotate(-45)">15 min</text>
<line class="tk" x1="703.1" y1="729.6" x2="703.1" y2="724.8"/>
<text class="xt" transform="translate(706.8,741.2) rotate(-45)">30 min</text>
<line class="tk" x1="740.7" y1="729.6" x2="740.7" y2="724.8"/>
<text class="xt" transform="translate(744.4,741.2) rotate(-45)">45 min</text>
<line class="tk" x1="778.4" y1="729.6" x2="778.4" y2="724.8"/>
<text class="xt" transform="translate(782.1,741.2) rotate(-45)">60 min</text>
<line class="tk" x1="816.1" y1="729.6" x2="816.1" y2="724.8"/>
<text class="xt" transform="translate(819.8,741.2) rotate(-45)">90 min</text>
<line class="tk" x1="853.8" y1="729.6" x2="853.8" y2="724.8"/>
<text class="xt" transform="translate(857.5,741.2) rotate(-45)">120 min</text>
<line class="tk" x1="891.5" y1="729.6" x2="891.5" y2="724.8"/>
<text class="xt" transform="translate(895.2,741.2) rotate(-45)">150 min</text>
<line class="tk" x1="929.1" y1="729.6" x2="929.1" y2="724.8"/>
<text class="xt" transform="translate(932.8,741.2) rotate(-45)">180 min</text>
<text class="yl" transform="translate(546,571.2) rotate(-90)">Insulin (µIU/ml)*</text>
<text class="pl" x="535.2" y="411.7">(d)</text>
<rect class="ibg" x="919.1" y="422.5" width="114.5" height="113.7"/>
<line class="ie" x1="957.5" y1="499.1" x2="957.5" y2="457.6"/>
<line class="ie" x1="954.4" y1="457.6" x2="960.6" y2="457.6"/>
<rect x="947.5" y="499.1" width="19.2" height="15.6" fill="#231f20" stroke="#231f20" stroke-width="0.7"/>
<rect x="947.5" y="524.1" width="19.2" height="12.1" fill="#231f20" stroke="#231f20" stroke-width="0.7"/>
<line class="ie" x1="976.5" y1="492.3" x2="976.5" y2="442.4"/>
<line class="ie" x1="973.4" y1="442.4" x2="979.6" y2="442.4"/>
<rect x="966.7" y="492.3" width="19.1" height="22.4" fill="#c7c8ca" stroke="#6d6e71" stroke-width="0.7"/>
<rect x="966.7" y="524.1" width="19.1" height="12.1" fill="#c7c8ca" stroke="#6d6e71" stroke-width="0.7"/>
<line class="ie" x1="995.5" y1="498.2" x2="995.5" y2="455.3"/>
<line class="ie" x1="992.4" y1="455.3" x2="998.6" y2="455.3"/>
<rect x="985.8" y="498.2" width="19.2" height="16.5" fill="#808285" stroke="#77787b" stroke-width="0.7"/>
<rect x="985.8" y="524.1" width="19.2" height="12.1" fill="#808285" stroke="#77787b" stroke-width="0.7"/>
<path class="iax" d="M919.1,514.9 V422.5 H1033.6 V514.6 M1033.6,523.8 V536.2 H919.1 V524.1"/>
<line class="sl" x1="909.7" y1="524.1" x2="928.8" y2="505.4"/>
<line class="sl" x1="909.7" y1="533.3" x2="928.8" y2="514.6"/>
<line class="sl" x1="1023.9" y1="524.1" x2="1043" y2="505.4"/>
<line class="sl" x1="1023.9" y1="533.3" x2="1043" y2="514.6"/>
<line class="itk" x1="919.1" y1="439.9" x2="923.1" y2="439.9"/>
<line class="itk" x1="919.1" y1="457.6" x2="923.1" y2="457.6"/>
<line class="itk" x1="919.1" y1="475.2" x2="923.1" y2="475.2"/>
<line class="itk" x1="919.1" y1="492.9" x2="923.1" y2="492.9"/>
<text class="it" style="font-size:10.6px" x="912.6" y="426.4">16 000</text>
<text class="it" style="font-size:10.6px" x="912.6" y="443.8">14 000</text>
<text class="it" style="font-size:10.6px" x="912.6" y="461.5">12 000</text>
<text class="it" style="font-size:10.6px" x="912.6" y="479.1">10 000</text>
<text class="it" style="font-size:10.6px" x="912.6" y="496.8">8000</text>
<text class="it" style="font-size:10.6px" x="912.6" y="518.6">6000</text>
<text class="it" style="font-size:10.6px" x="912.6" y="540.1">0</text>
<text class="il" style="font-size:10.75px" transform="translate(870.5,473.9) rotate(-90)">AUCi (µIU/<tspan class="tm" dx="0.05em">×</tspan><tspan dx="0.05em"></tspan>min/ml)*</text>
</g>
<g id="panel-e">
<polyline class="dl" points="94.2,1093.4 131.8,1054.5 169.5,957 207.1,930.3 244.8,926.3 282.4,964.3 320.1,988.1 357.8,1024 395.4,1049.7"/>
<circle class="mc" cx="94.2" cy="1093.4" r="3.6"/>
<circle class="mc" cx="131.8" cy="1054.5" r="3.6"/>
<circle class="mc" cx="169.5" cy="957" r="3.6"/>
<circle class="mc" cx="207.1" cy="930.3" r="3.6"/>
<circle class="mc" cx="244.8" cy="926.3" r="3.6"/>
<circle class="mc" cx="282.4" cy="964.3" r="3.6"/>
<circle class="mc" cx="320.1" cy="988.1" r="3.6"/>
<circle class="mc" cx="357.8" cy="1024" r="3.6"/>
<circle class="mc" cx="395.4" cy="1049.7" r="3.6"/>
<polyline class="dl" points="94.2,1094.5 131.8,1067 169.5,972 207.1,947.5 244.8,948.3 282.4,976.5 320.1,970.9 357.8,990.3 395.4,1036"/>
<polygon class="mu" points="90.3,1097.5 98.1,1097.5 94.2,1090.2"/>
<polygon class="mu" points="127.9,1070 135.8,1070 131.8,1062.7"/>
<polygon class="mu" points="165.6,975 173.4,975 169.5,967.7"/>
<polygon class="mu" points="203.2,950.5 211,950.5 207.1,943.2"/>
<polygon class="mu" points="240.9,951.3 248.7,951.3 244.8,944"/>
<polygon class="mu" points="278.6,979.5 286.3,979.5 282.4,972.2"/>
<polygon class="mu" points="316.2,973.9 324,973.9 320.1,966.6"/>
<polygon class="mu" points="353.9,993.3 361.6,993.3 357.8,986"/>
<polygon class="mu" points="391.5,1039 399.3,1039 395.4,1031.7"/>
<polyline class="dl" points="94.2,1095.6 131.8,1067 169.5,972.5 207.1,946.5 244.8,959 282.4,969.1 320.1,988.3 357.8,1021.7 395.4,1044.7"/>
<polygon class="md" points="90,1092.4 98.4,1092.4 94.2,1100"/>
<polygon class="md" points="127.6,1063.8 136,1063.8 131.8,1071.4"/>
<polygon class="md" points="165.3,969.3 173.7,969.3 169.5,976.9"/>
<polygon class="md" points="202.9,943.3 211.3,943.3 207.1,950.9"/>
<polygon class="md" points="240.6,955.8 249,955.8 244.8,963.4"/>
<polygon class="md" points="278.2,965.9 286.6,965.9 282.4,973.5"/>
<polygon class="md" points="315.9,985.1 324.3,985.1 320.1,992.7"/>
<polygon class="md" points="353.6,1018.5 361.9,1018.5 357.8,1026.1"/>
<polygon class="md" points="391.2,1041.5 399.6,1041.5 395.4,1049.1"/>
<line class="eb" x1="94.2" y1="1080.2" x2="94.2" y2="1109.4"/>
<line class="eb" x1="89.2" y1="1080.2" x2="99.2" y2="1080.2"/>
<line class="eb" x1="89.2" y1="1080.6" x2="99.2" y2="1080.6"/>
<line class="eb" x1="89.2" y1="1080.9" x2="99.2" y2="1080.9"/>
<line class="eb" x1="89.2" y1="1107.1" x2="99.2" y2="1107.1"/>
<line class="eb" x1="89.2" y1="1109.4" x2="99.2" y2="1109.4"/>
<line class="eb" x1="89.2" y1="1108.5" x2="99.2" y2="1108.5"/>
<line class="eb" x1="131.8" y1="1018.4" x2="131.8" y2="1095.2"/>
<line class="eb" x1="126.8" y1="1018.4" x2="136.8" y2="1018.4"/>
<line class="eb" x1="126.8" y1="1037.8" x2="136.8" y2="1037.8"/>
<line class="eb" x1="126.8" y1="1040.3" x2="136.8" y2="1040.3"/>
<line class="eb" x1="126.8" y1="1069" x2="136.8" y2="1069"/>
<line class="eb" x1="126.8" y1="1091.9" x2="136.8" y2="1091.9"/>
<line class="eb" x1="126.8" y1="1095.2" x2="136.8" y2="1095.2"/>
<line class="eb" x1="169.5" y1="883" x2="169.5" y2="1039.9"/>
<line class="eb" x1="164.5" y1="883" x2="174.5" y2="883"/>
<line class="eb" x1="164.5" y1="902.2" x2="174.5" y2="902.2"/>
<line class="eb" x1="164.5" y1="905.9" x2="174.5" y2="905.9"/>
<line class="eb" x1="164.5" y1="1031.1" x2="174.5" y2="1031.1"/>
<line class="eb" x1="164.5" y1="1039.6" x2="174.5" y2="1039.6"/>
<line class="eb" x1="164.5" y1="1039.9" x2="174.5" y2="1039.9"/>
<line class="eb" x1="207.1" y1="859.8" x2="207.1" y2="1036.1"/>
<line class="eb" x1="202.1" y1="859.8" x2="212.1" y2="859.8"/>
<line class="eb" x1="202.1" y1="860.5" x2="212.1" y2="860.5"/>
<line class="eb" x1="202.1" y1="860.2" x2="212.1" y2="860.2"/>
<line class="eb" x1="202.1" y1="1002.4" x2="212.1" y2="1002.4"/>
<line class="eb" x1="202.1" y1="1032.8" x2="212.1" y2="1032.8"/>
<line class="eb" x1="202.1" y1="1036.1" x2="212.1" y2="1036.1"/>
<line class="eb" x1="244.8" y1="847.3" x2="244.8" y2="1032.3"/>
<line class="eb" x1="239.8" y1="847.3" x2="249.8" y2="847.3"/>
<line class="eb" x1="239.8" y1="866.5" x2="249.8" y2="866.5"/>
<line class="eb" x1="239.8" y1="885.7" x2="249.8" y2="885.7"/>
<line class="eb" x1="239.8" y1="1005.9" x2="249.8" y2="1005.9"/>
<line class="eb" x1="239.8" y1="1029.8" x2="249.8" y2="1029.8"/>
<line class="eb" x1="239.8" y1="1032.3" x2="249.8" y2="1032.3"/>
<line class="eb" x1="282.4" y1="896.7" x2="282.4" y2="1051.4"/>
<line class="eb" x1="277.4" y1="896.7" x2="287.4" y2="896.7"/>
<line class="eb" x1="277.4" y1="902.2" x2="287.4" y2="902.2"/>
<line class="eb" x1="277.4" y1="902.6" x2="287.4" y2="902.6"/>
<line class="eb" x1="277.4" y1="1026" x2="287.4" y2="1026"/>
<line class="eb" x1="277.4" y1="1041.7" x2="287.4" y2="1041.7"/>
<line class="eb" x1="277.4" y1="1051.4" x2="287.4" y2="1051.4"/>
<line class="eb" x1="320.1" y1="886.4" x2="320.1" y2="1072.1"/>
<line class="eb" x1="315.1" y1="886.4" x2="325.1" y2="886.4"/>
<line class="eb" x1="315.1" y1="904.1" x2="325.1" y2="904.1"/>
<line class="eb" x1="315.1" y1="920.1" x2="325.1" y2="920.1"/>
<line class="eb" x1="315.1" y1="1056.6" x2="325.1" y2="1056.6"/>
<line class="eb" x1="315.1" y1="1072.1" x2="325.1" y2="1072.1"/>
<line class="eb" x1="315.1" y1="1056.9" x2="325.1" y2="1056.9"/>
<line class="eb" x1="357.8" y1="915.1" x2="357.8" y2="1083.8"/>
<line class="eb" x1="352.8" y1="915.1" x2="362.8" y2="915.1"/>
<line class="eb" x1="352.8" y1="964.3" x2="362.8" y2="964.3"/>
<line class="eb" x1="352.8" y1="967.2" x2="362.8" y2="967.2"/>
<line class="eb" x1="352.8" y1="1066.4" x2="362.8" y2="1066.4"/>
<line class="eb" x1="352.8" y1="1074.6" x2="362.8" y2="1074.6"/>
<line class="eb" x1="352.8" y1="1083.8" x2="362.8" y2="1083.8"/>
<line class="eb" x1="395.4" y1="983.8" x2="395.4" y2="1094"/>
<line class="eb" x1="390.4" y1="983.8" x2="400.4" y2="983.8"/>
<line class="eb" x1="390.4" y1="995.6" x2="400.4" y2="995.6"/>
<line class="eb" x1="390.4" y1="1005.5" x2="400.4" y2="1005.5"/>
<line class="eb" x1="390.4" y1="1088.3" x2="400.4" y2="1088.3"/>
<line class="eb" x1="390.4" y1="1093.3" x2="400.4" y2="1093.3"/>
<line class="eb" x1="390.4" y1="1094" x2="400.4" y2="1094"/>
<rect class="ax" x="56.6" y="809.4" width="452" height="316.4"/>
<line class="tk" x1="56.6" y1="1125.8" x2="61.4" y2="1125.8"/>
<text class="yt" x="49.6" y="1130.1">0</text>
<line class="tk" x1="56.6" y1="1080.6" x2="61.4" y2="1080.6"/>
<text class="yt" x="49.6" y="1084.9">2</text>
<line class="tk" x1="56.6" y1="1035.4" x2="61.4" y2="1035.4"/>
<text class="yt" x="49.6" y="1039.7">4</text>
<line class="tk" x1="56.6" y1="990.2" x2="61.4" y2="990.2"/>
<text class="yt" x="49.6" y="994.5">6</text>
<line class="tk" x1="56.6" y1="945" x2="61.4" y2="945"/>
<text class="yt" x="49.6" y="949.3">8</text>
<line class="tk" x1="56.6" y1="899.8" x2="61.4" y2="899.8"/>
<text class="yt" x="49.6" y="904.1">10</text>
<line class="tk" x1="56.6" y1="854.6" x2="61.4" y2="854.6"/>
<text class="yt" x="49.6" y="858.9">12</text>
<line class="tk" x1="56.6" y1="809.4" x2="61.4" y2="809.4"/>
<text class="yt" x="49.6" y="813.7">14</text>
<line class="tk" x1="94.2" y1="1125.8" x2="94.2" y2="1121"/>
<text class="xt" transform="translate(97.9,1137.4) rotate(-45)">0 min</text>
<line class="tk" x1="131.8" y1="1125.8" x2="131.8" y2="1121"/>
<text class="xt" transform="translate(135.5,1137.4) rotate(-45)">15 min</text>
<line class="tk" x1="169.5" y1="1125.8" x2="169.5" y2="1121"/>
<text class="xt" transform="translate(173.2,1137.4) rotate(-45)">30 min</text>
<line class="tk" x1="207.1" y1="1125.8" x2="207.1" y2="1121"/>
<text class="xt" transform="translate(210.8,1137.4) rotate(-45)">45 min</text>
<line class="tk" x1="244.8" y1="1125.8" x2="244.8" y2="1121"/>
<text class="xt" transform="translate(248.5,1137.4) rotate(-45)">60 min</text>
<line class="tk" x1="282.4" y1="1125.8" x2="282.4" y2="1121"/>
<text class="xt" transform="translate(286.1,1137.4) rotate(-45)">90 min</text>
<line class="tk" x1="320.1" y1="1125.8" x2="320.1" y2="1121"/>
<text class="xt" transform="translate(323.8,1137.4) rotate(-45)">120 min</text>
<line class="tk" x1="357.8" y1="1125.8" x2="357.8" y2="1121"/>
<text class="xt" transform="translate(361.4,1137.4) rotate(-45)">150 min</text>
<line class="tk" x1="395.4" y1="1125.8" x2="395.4" y2="1121"/>
<text class="xt" transform="translate(399.1,1137.4) rotate(-45)">180 min</text>
<text class="yl" transform="translate(12.5,968) rotate(-90)">C-peptide (ng/dl)*</text>
<text class="pl" x="1.3" y="807.4">(e)</text>
<rect class="ibg" x="387.1" y="815" width="113" height="112.4"/>
<line class="ie" x1="424.5" y1="890.4" x2="424.5" y2="846.1"/>
<line class="ie" x1="421.4" y1="846.1" x2="427.6" y2="846.1"/>
<rect x="415" y="890.4" width="19.1" height="15.8" fill="#231f20" stroke="#231f20" stroke-width="0.7"/>
<rect x="415" y="915.6" width="19.1" height="11.8" fill="#231f20" stroke="#231f20" stroke-width="0.7"/>
<line class="ie" x1="443.5" y1="889.2" x2="443.5" y2="835.3"/>
<line class="ie" x1="440.4" y1="835.3" x2="446.6" y2="835.3"/>
<rect x="434.1" y="889.2" width="18.9" height="17" fill="#c7c8ca" stroke="#6d6e71" stroke-width="0.7"/>
<rect x="434.1" y="915.6" width="18.9" height="11.8" fill="#c7c8ca" stroke="#6d6e71" stroke-width="0.7"/>
<line class="ie" x1="462.5" y1="896.7" x2="462.5" y2="854.8"/>
<line class="ie" x1="459.4" y1="854.8" x2="465.6" y2="854.8"/>
<rect x="453" y="896.7" width="19" height="9.5" fill="#808285" stroke="#77787b" stroke-width="0.7"/>
<rect x="453" y="915.6" width="19" height="11.8" fill="#808285" stroke="#77787b" stroke-width="0.7"/>
<path class="iax" d="M387.1,906.4 V815 H500.1 V906 M500.1,914.9 V927.4 H387.1 V915.3"/>
<line class="sl" x1="378" y1="915.3" x2="396.7" y2="897"/>
<line class="sl" x1="378" y1="924.2" x2="396.7" y2="905.9"/>
<line class="sl" x1="490.6" y1="915.3" x2="509.3" y2="897"/>
<line class="sl" x1="490.6" y1="924.2" x2="509.3" y2="905.9"/>
<line class="itk" x1="387.1" y1="840.5" x2="391.1" y2="840.5"/>
<line class="itk" x1="387.1" y1="866.7" x2="391.1" y2="866.7"/>
<line class="itk" x1="387.1" y1="892.5" x2="391.1" y2="892.5"/>
<text class="it" style="font-size:10.6px" x="380.6" y="818.9">1400</text>
<text class="it" style="font-size:10.6px" x="380.6" y="844.4">1200</text>
<text class="it" style="font-size:10.6px" x="380.6" y="870.6">1000</text>
<text class="it" style="font-size:10.6px" x="380.6" y="896.4">800</text>
<text class="it" style="font-size:10.6px" x="380.6" y="931.3">0</text>
<text class="il" style="font-size:10.75px" transform="translate(343.5,864.5) rotate(-90)">AUCi (ng<tspan class="tm" dx="0.05em">×</tspan><tspan dx="0.05em"></tspan>min/dl)*</text>
</g>
<g id="panel-f">
<polyline class="dl" points="627.7,1096.6 665.4,1062.9 703.1,976.9 740.7,954.4 778.4,950.3 816.1,983.6 853.8,1004 891.5,1035.5 929.1,1058.4"/>
<circle class="mc" cx="627.7" cy="1096.6" r="3.6"/>
<circle class="mc" cx="665.4" cy="1062.9" r="3.6"/>
<circle class="mc" cx="703.1" cy="976.9" r="3.6"/>
<circle class="mc" cx="740.7" cy="954.4" r="3.6"/>
<circle class="mc" cx="778.4" cy="950.3" r="3.6"/>
<circle class="mc" cx="816.1" cy="983.6" r="3.6"/>
<circle class="mc" cx="853.8" cy="1004" r="3.6"/>
<circle class="mc" cx="891.5" cy="1035.5" r="3.6"/>
<circle class="mc" cx="929.1" cy="1058.4" r="3.6"/>
<polyline class="dl" points="627.7,1098 665.4,1069.7 703.1,978.6 740.7,945 778.4,938.5 816.1,971 853.8,991.6 891.5,1025.2 929.1,1060"/>
<polygon class="mu" points="623.8,1101 631.6,1101 627.7,1093.7"/>
<polygon class="mu" points="661.5,1072.7 669.3,1072.7 665.4,1065.4"/>
<polygon class="mu" points="699.2,981.6 707,981.6 703.1,974.3"/>
<polygon class="mu" points="736.8,948 744.6,948 740.7,940.7"/>
<polygon class="mu" points="774.5,941.5 782.3,941.5 778.4,934.2"/>
<polygon class="mu" points="812.2,974 820,974 816.1,966.7"/>
<polygon class="mu" points="849.9,994.6 857.7,994.6 853.8,987.3"/>
<polygon class="mu" points="887.6,1028.2 895.4,1028.2 891.5,1020.9"/>
<polygon class="mu" points="925.2,1063 933,1063 929.1,1055.7"/>
<polyline class="dl" points="627.7,1099.6 665.4,1079.1 703.1,984.4 740.7,955 778.4,943.5 816.1,977.4 853.8,1010.3 891.5,1036 929.1,1061.4"/>
<polygon class="md" points="623.5,1096.4 631.9,1096.4 627.7,1104"/>
<polygon class="md" points="661.2,1075.9 669.6,1075.9 665.4,1083.5"/>
<polygon class="md" points="698.9,981.2 707.3,981.2 703.1,988.8"/>
<polygon class="md" points="736.5,951.8 744.9,951.8 740.7,959.4"/>
<polygon class="md" points="774.2,940.3 782.6,940.3 778.4,947.9"/>
<polygon class="md" points="811.9,974.2 820.3,974.2 816.1,981.8"/>
<polygon class="md" points="849.6,1007.1 858,1007.1 853.8,1014.7"/>
<polygon class="md" points="887.3,1032.8 895.7,1032.8 891.5,1040.4"/>
<polygon class="md" points="924.9,1058.2 933.3,1058.2 929.1,1065.8"/>
<line class="eb" x1="627.7" y1="1085.9" x2="627.7" y2="1109.6"/>
<line class="eb" x1="622.7" y1="1085.9" x2="632.7" y2="1085.9"/>
<line class="eb" x1="622.7" y1="1087.6" x2="632.7" y2="1087.6"/>
<line class="eb" x1="622.7" y1="1086.5" x2="632.7" y2="1086.5"/>
<line class="eb" x1="622.7" y1="1108.3" x2="632.7" y2="1108.3"/>
<line class="eb" x1="622.7" y1="1109.6" x2="632.7" y2="1109.6"/>
<line class="eb" x1="622.7" y1="1109" x2="632.7" y2="1109"/>
<line class="eb" x1="665.4" y1="1031.2" x2="665.4" y2="1099.1"/>
<line class="eb" x1="660.4" y1="1031.2" x2="670.4" y2="1031.2"/>
<line class="eb" x1="660.4" y1="1046" x2="670.4" y2="1046"/>
<line class="eb" x1="660.4" y1="1057.2" x2="670.4" y2="1057.2"/>
<line class="eb" x1="660.4" y1="1092.1" x2="670.4" y2="1092.1"/>
<line class="eb" x1="660.4" y1="1095.8" x2="670.4" y2="1095.8"/>
<line class="eb" x1="660.4" y1="1099.1" x2="670.4" y2="1099.1"/>
<line class="eb" x1="703.1" y1="912.4" x2="703.1" y2="1044"/>
<line class="eb" x1="698.1" y1="912.4" x2="708.1" y2="912.4"/>
<line class="eb" x1="698.1" y1="935.8" x2="708.1" y2="935.8"/>
<line class="eb" x1="698.1" y1="936.3" x2="708.1" y2="936.3"/>
<line class="eb" x1="698.1" y1="1033" x2="708.1" y2="1033"/>
<line class="eb" x1="698.1" y1="1042.7" x2="708.1" y2="1042.7"/>
<line class="eb" x1="698.1" y1="1044" x2="708.1" y2="1044"/>
<line class="eb" x1="740.7" y1="865" x2="740.7" y2="1025.5"/>
<line class="eb" x1="735.7" y1="865" x2="745.7" y2="865"/>
<line class="eb" x1="735.7" y1="886.5" x2="745.7" y2="886.5"/>
<line class="eb" x1="735.7" y1="892" x2="745.7" y2="892"/>
<line class="eb" x1="735.7" y1="1017.3" x2="745.7" y2="1017.3"/>
<line class="eb" x1="735.7" y1="1023.5" x2="745.7" y2="1023.5"/>
<line class="eb" x1="735.7" y1="1025.5" x2="745.7" y2="1025.5"/>
<line class="eb" x1="778.4" y1="852.8" x2="778.4" y2="1027.3"/>
<line class="eb" x1="773.4" y1="852.8" x2="783.4" y2="852.8"/>
<line class="eb" x1="773.4" y1="858.6" x2="783.4" y2="858.6"/>
<line class="eb" x1="773.4" y1="881.7" x2="783.4" y2="881.7"/>
<line class="eb" x1="773.4" y1="1019.8" x2="783.4" y2="1019.8"/>
<line class="eb" x1="773.4" y1="1024" x2="783.4" y2="1024"/>
<line class="eb" x1="773.4" y1="1027.3" x2="783.4" y2="1027.3"/>
<line class="eb" x1="816.1" y1="900.4" x2="816.1" y2="1050.9"/>
<line class="eb" x1="811.1" y1="900.4" x2="821.1" y2="900.4"/>
<line class="eb" x1="811.1" y1="903.4" x2="821.1" y2="903.4"/>
<line class="eb" x1="811.1" y1="930.4" x2="821.1" y2="930.4"/>
<line class="eb" x1="811.1" y1="1038" x2="821.1" y2="1038"/>
<line class="eb" x1="811.1" y1="1041" x2="821.1" y2="1041"/>
<line class="eb" x1="811.1" y1="1050.9" x2="821.1" y2="1050.9"/>
<line class="eb" x1="853.8" y1="915.9" x2="853.8" y2="1078.1"/>
<line class="eb" x1="848.8" y1="915.9" x2="858.8" y2="915.9"/>
<line class="eb" x1="848.8" y1="931.7" x2="858.8" y2="931.7"/>
<line class="eb" x1="848.8" y1="960.2" x2="858.8" y2="960.2"/>
<line class="eb" x1="848.8" y1="1060.9" x2="858.8" y2="1060.9"/>
<line class="eb" x1="848.8" y1="1067.9" x2="858.8" y2="1067.9"/>
<line class="eb" x1="848.8" y1="1078.1" x2="858.8" y2="1078.1"/>
<line class="eb" x1="891.5" y1="964" x2="891.5" y2="1087.8"/>
<line class="eb" x1="886.5" y1="964" x2="896.5" y2="964"/>
<line class="eb" x1="886.5" y1="983.6" x2="896.5" y2="983.6"/>
<line class="eb" x1="886.5" y1="985.3" x2="896.5" y2="985.3"/>
<line class="eb" x1="886.5" y1="1083.8" x2="896.5" y2="1083.8"/>
<line class="eb" x1="886.5" y1="1087.1" x2="896.5" y2="1087.1"/>
<line class="eb" x1="886.5" y1="1087.8" x2="896.5" y2="1087.8"/>
<line class="eb" x1="929.1" y1="1019.8" x2="929.1" y2="1097.1"/>
<line class="eb" x1="924.1" y1="1019.8" x2="934.1" y2="1019.8"/>
<line class="eb" x1="924.1" y1="1024.8" x2="934.1" y2="1024.8"/>
<line class="eb" x1="924.1" y1="1031.2" x2="934.1" y2="1031.2"/>
<line class="eb" x1="924.1" y1="1092.1" x2="934.1" y2="1092.1"/>
<line class="eb" x1="924.1" y1="1094.6" x2="934.1" y2="1094.6"/>
<line class="eb" x1="924.1" y1="1097.1" x2="934.1" y2="1097.1"/>
<rect class="ax" x="590.1" y="808.5" width="452.1" height="316.9"/>
<line class="tk" x1="590.1" y1="1125.4" x2="594.9" y2="1125.4"/>
<text class="yt" x="583.1" y="1129.7">0</text>
<line class="tk" x1="590.1" y1="1085.8" x2="594.9" y2="1085.8"/>
<text class="yt" x="583.1" y="1090.1">2</text>
<line class="tk" x1="590.1" y1="1046.2" x2="594.9" y2="1046.2"/>
<text class="yt" x="583.1" y="1050.5">4</text>
<line class="tk" x1="590.1" y1="1006.6" x2="594.9" y2="1006.6"/>
<text class="yt" x="583.1" y="1010.9">6</text>
<line class="tk" x1="590.1" y1="967" x2="594.9" y2="967"/>
<text class="yt" x="583.1" y="971.2">8</text>
<line class="tk" x1="590.1" y1="927.3" x2="594.9" y2="927.3"/>
<text class="yt" x="583.1" y="931.6">10</text>
<line class="tk" x1="590.1" y1="887.7" x2="594.9" y2="887.7"/>
<text class="yt" x="583.1" y="892">12</text>
<line class="tk" x1="590.1" y1="848.1" x2="594.9" y2="848.1"/>
<text class="yt" x="583.1" y="852.4">14</text>
<line class="tk" x1="590.1" y1="808.5" x2="594.9" y2="808.5"/>
<text class="yt" x="583.1" y="812.8">16</text>
<line class="tk" x1="627.7" y1="1125.4" x2="627.7" y2="1120.6"/>
<text class="xt" transform="translate(631.4,1137) rotate(-45)">0 min</text>
<line class="tk" x1="665.4" y1="1125.4" x2="665.4" y2="1120.6"/>
<text class="xt" transform="translate(669.1,1137) rotate(-45)">15 min</text>
<line class="tk" x1="703.1" y1="1125.4" x2="703.1" y2="1120.6"/>
<text class="xt" transform="translate(706.8,1137) rotate(-45)">30 min</text>
<line class="tk" x1="740.7" y1="1125.4" x2="740.7" y2="1120.6"/>
<text class="xt" transform="translate(744.4,1137) rotate(-45)">45 min</text>
<line class="tk" x1="778.4" y1="1125.4" x2="778.4" y2="1120.6"/>
<text class="xt" transform="translate(782.1,1137) rotate(-45)">60 min</text>
<line class="tk" x1="816.1" y1="1125.4" x2="816.1" y2="1120.6"/>
<text class="xt" transform="translate(819.8,1137) rotate(-45)">90 min</text>
<line class="tk" x1="853.8" y1="1125.4" x2="853.8" y2="1120.6"/>
<text class="xt" transform="translate(857.5,1137) rotate(-45)">120 min</text>
<line class="tk" x1="891.5" y1="1125.4" x2="891.5" y2="1120.6"/>
<text class="xt" transform="translate(895.2,1137) rotate(-45)">150 min</text>
<line class="tk" x1="929.1" y1="1125.4" x2="929.1" y2="1120.6"/>
<text class="xt" transform="translate(932.8,1137) rotate(-45)">180 min</text>
<text class="yl" transform="translate(546,967.5) rotate(-90)">C-peptide (ng/dl)*</text>
<text class="pl" x="535.2" y="807.4">(f)</text>
<rect class="ibg" x="919.5" y="813.1" width="113.6" height="113.5"/>
<line class="ie" x1="957.5" y1="892.9" x2="957.5" y2="858"/>
<line class="ie" x1="954.4" y1="858" x2="960.6" y2="858"/>
<rect x="947.8" y="892.9" width="18.9" height="11.8" fill="#231f20" stroke="#231f20" stroke-width="0.7"/>
<rect x="947.8" y="914.3" width="18.9" height="12.3" fill="#231f20" stroke="#231f20" stroke-width="0.7"/>
<line class="ie" x1="976.5" y1="884.5" x2="976.5" y2="839.3"/>
<line class="ie" x1="973.4" y1="839.3" x2="979.6" y2="839.3"/>
<rect x="966.7" y="884.5" width="19.1" height="20.2" fill="#c7c8ca" stroke="#6d6e71" stroke-width="0.7"/>
<rect x="966.7" y="914.3" width="19.1" height="12.3" fill="#c7c8ca" stroke="#6d6e71" stroke-width="0.7"/>
<line class="ie" x1="995.5" y1="892" x2="995.5" y2="857.3"/>
<line class="ie" x1="992.4" y1="857.3" x2="998.6" y2="857.3"/>
<rect x="985.8" y="892" width="19.2" height="12.7" fill="#808285" stroke="#77787b" stroke-width="0.7"/>
<rect x="985.8" y="914.3" width="19.2" height="12.3" fill="#808285" stroke="#77787b" stroke-width="0.7"/>
<path class="iax" d="M919.5,905.2 V813.1 H1033.1 V905.3 M1033.1,914.1 V926.6 H919.5 V914"/>
<line class="sl" x1="910.4" y1="914.1" x2="929.1" y2="895.8"/>
<line class="sl" x1="910.4" y1="922.9" x2="929.1" y2="904.6"/>
<line class="sl" x1="1023.9" y1="914.1" x2="1043" y2="895.8"/>
<line class="sl" x1="1023.9" y1="922.9" x2="1043" y2="904.6"/>
<line class="itk" x1="919.5" y1="833.7" x2="923.5" y2="833.7"/>
<line class="itk" x1="919.5" y1="854" x2="923.5" y2="854"/>
<line class="itk" x1="919.5" y1="874.4" x2="923.5" y2="874.4"/>
<line class="itk" x1="919.5" y1="895" x2="923.5" y2="895"/>
<text class="it" style="font-size:10.6px" x="913" y="817">1600</text>
<text class="it" style="font-size:10.6px" x="913" y="837.6">1400</text>
<text class="it" style="font-size:10.6px" x="913" y="857.9">1200</text>
<text class="it" style="font-size:10.6px" x="913" y="878.3">1000</text>
<text class="it" style="font-size:10.6px" x="913" y="898.9">800</text>
<text class="it" style="font-size:10.6px" x="913" y="930.5">0</text>
<text class="il" style="font-size:10.75px" transform="translate(876.7,868.9) rotate(-90)">AUCi (ng<tspan class="tm" dx="0.05em">×</tspan><tspan dx="0.05em"></tspan>min/dl)*</text>
</g>
</svg>
</body></html>
